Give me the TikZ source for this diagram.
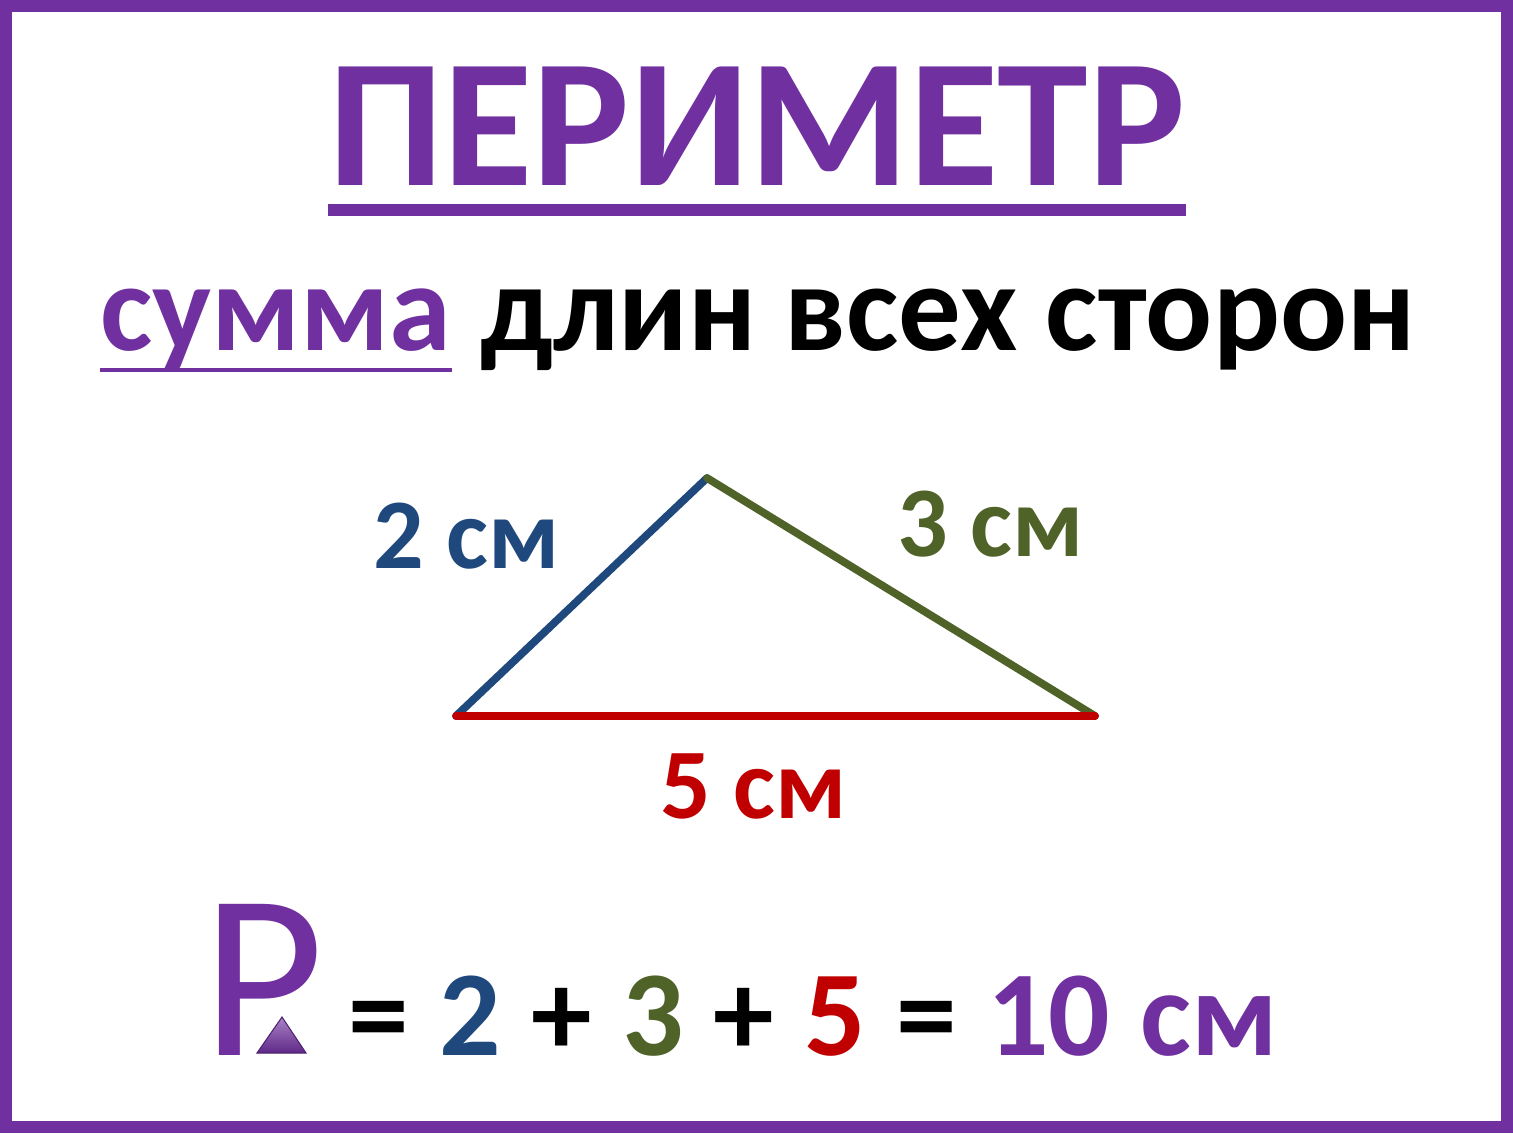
\documentclass[tikz,border=0pt]{standalone}
\usepackage{fontspec}
\setmainfont{Carlito}
\usetikzlibrary{calc}

\definecolor{lila}{HTML}{7030A0}
\definecolor{blau}{HTML}{1F497D}
\definecolor{gruen}{HTML}{4F6228}
\definecolor{rot}{HTML}{C00000}

\newcommand{\gr}[1]{\fontsize{#1}{#1}\selectfont}

\begin{document}
\begin{tikzpicture}[x=0.01cm, y=-0.01cm, every node/.style={inner sep=0pt, font=\bfseries}]
	\useasboundingbox (0,0) rectangle (1513,1133);
	\fill[white] (0,0) rectangle (1513,1133);
	\draw[lila, line width=3.4pt] (6,6) rectangle (1507,1127);
	
	\node[anchor=base, text=lila] (titel) at (757,185) {\gr{52pt}ПЕРИМЕТР};
	\draw[lila, line width=3.4pt] (328,210) -- (1186,210);
	
	\node[anchor=base west, text=lila] (summe) at (100,350) {\gr{35.5pt}сумма};
	\node[anchor=base west] (rest) at ($(summe.base east)+(28,0)$) {\gr{35.5pt}длин всех сторон};
	\draw[lila, line width=1.4pt] ($(summe.base west)+(0,20)$) -- ($(summe.base east)+(0,20)$);
	
	\coordinate (a1) at (456,716);
	\coordinate (a2) at (707,478);
	\coordinate (a3) at (1095,716);
	\draw[blau, line width=2.2pt, line cap=round] (a1) -- (a2);
	\draw[gruen, line width=2.2pt, line cap=round] (a2) -- (a3);
	\draw[rot, line width=2.2pt, line cap=round] (a3) -- (a1);
	
	\node[anchor=base west, text=blau] (l1) at (373,568) {\gr{28.4pt}2 см};
	\node[anchor=base west, text=gruen] (l2) at (897,556) {\gr{28.4pt}3 см};
	\node[anchor=base west, text=rot] (l3) at (660,818) {\gr{28.4pt}5 см};
	
	\node[anchor=base west, text=lila, font=\mdseries] (p) at (202,1055) {\gr{67pt}P};
	\draw[draw=lila!70!black, top color=lila!60, bottom color=lila!85!black, line width=0.3pt] (257,1053) -- (282,1017) -- (306,1053) -- cycle;
	
	\node[anchor=base west] (formel) at (348,1055) {\gr{34.5pt}\spaceskip=0.25em = \textcolor{blau}{2} + \textcolor{gruen}{3} + \textcolor{rot}{5} = \textcolor{lila}{10 см}};
\end{tikzpicture}
\end{document}
